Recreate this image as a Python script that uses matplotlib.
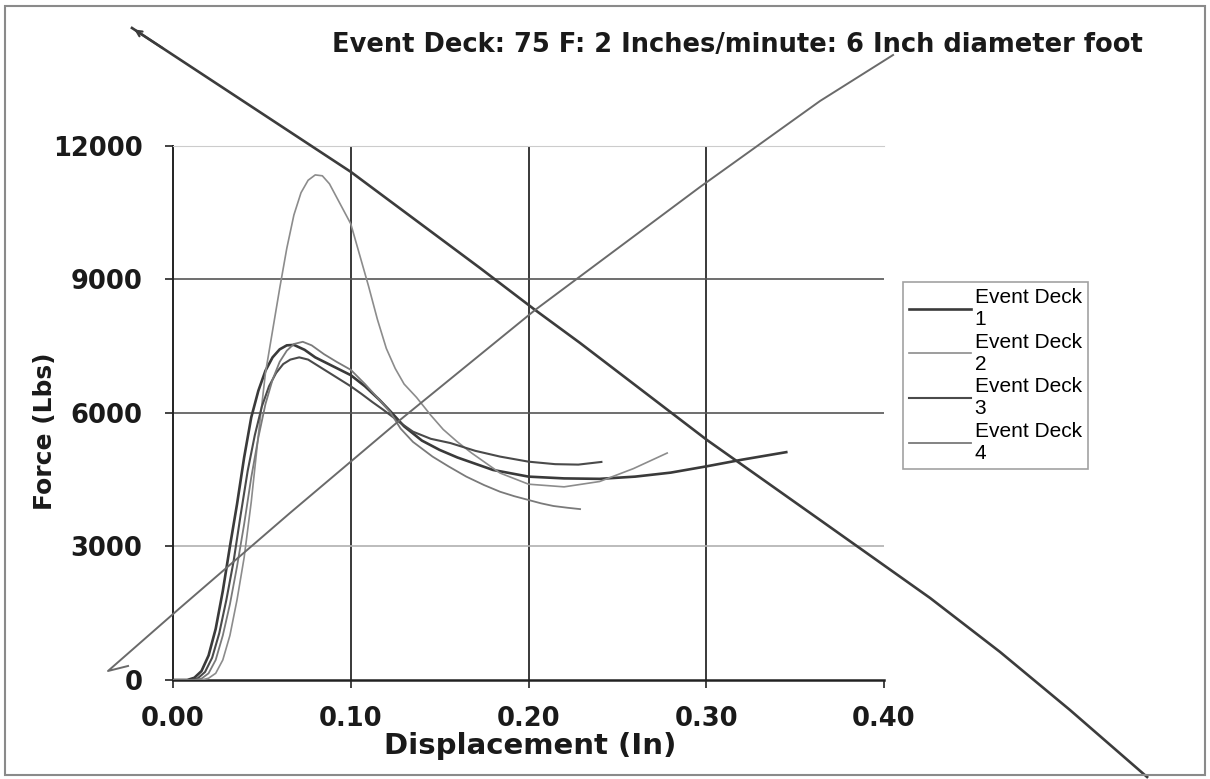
import matplotlib
matplotlib.use("Agg")
import matplotlib.pyplot as plt
from matplotlib.patches import Rectangle

# --- curve data (displacement in, force lbs) ---
deck1_x = [0.000, 0.008, 0.012, 0.016, 0.020, 0.024, 0.028, 0.032, 0.036, 0.040,
           0.044, 0.048, 0.052, 0.056, 0.060, 0.064, 0.068, 0.074, 0.080, 0.090,
           0.100, 0.108, 0.116, 0.122, 0.130, 0.140, 0.150, 0.160, 0.180, 0.200,
           0.220, 0.240, 0.260, 0.280, 0.300, 0.320, 0.345]
deck1_y = [0, 0, 50, 200, 550, 1150, 2000, 3000, 3950, 5000,
           5900, 6500, 6950, 7250, 7430, 7520, 7530, 7420, 7250, 7050,
           6850, 6600, 6300, 6050, 5700, 5380, 5170, 5000, 4720, 4570,
           4530, 4520, 4570, 4660, 4800, 4950, 5120]

deck2_x = [0.000, 0.016, 0.020, 0.024, 0.028, 0.032, 0.036, 0.040, 0.044, 0.048,
           0.052, 0.056, 0.060, 0.064, 0.068, 0.072, 0.076, 0.080, 0.084, 0.088,
           0.092, 0.096, 0.100, 0.105, 0.110, 0.115, 0.120, 0.125, 0.130, 0.137,
           0.145, 0.152, 0.160, 0.168, 0.184, 0.200, 0.220, 0.240, 0.259, 0.278]
deck2_y = [0, 0, 40, 150, 450, 1000, 1800, 2750, 4000, 5500,
           6900, 7850, 8800, 9700, 10450, 10950, 11230, 11350, 11330, 11150,
           10850, 10550, 10250, 9550, 8850, 8100, 7450, 7000, 6650, 6350,
           5950, 5630, 5350, 5100, 4650, 4400, 4340, 4460, 4750, 5100]

deck3_x = [0.000, 0.010, 0.014, 0.018, 0.022, 0.026, 0.030, 0.034, 0.038, 0.042,
           0.046, 0.050, 0.054, 0.058, 0.062, 0.066, 0.071, 0.076, 0.082, 0.090,
           0.096, 0.100, 0.106, 0.112, 0.118, 0.124, 0.128, 0.135, 0.145, 0.156,
           0.170, 0.184, 0.200, 0.215, 0.228, 0.241]
deck3_y = [0, 0, 40, 180, 500, 1050, 1800, 2650, 3700, 4700,
           5500, 6150, 6600, 6900, 7100, 7200, 7250, 7200, 7050, 6850,
           6700, 6600, 6430, 6250, 6080, 5900, 5775, 5580, 5420, 5325,
           5150, 5020, 4906, 4850, 4840, 4900]

deck4_x = [0.000, 0.012, 0.016, 0.020, 0.024, 0.028, 0.032, 0.036, 0.040, 0.044,
           0.048, 0.052, 0.056, 0.060, 0.064, 0.068, 0.073, 0.078, 0.085, 0.092,
           0.100, 0.108, 0.116, 0.122, 0.128, 0.135, 0.146, 0.155, 0.165, 0.175,
           0.184, 0.192, 0.200, 0.207, 0.214, 0.222, 0.229]
deck4_y = [0, 0, 30, 150, 450, 1000, 1700, 2550, 3500, 4550,
           5450, 6200, 6750, 7150, 7400, 7550, 7600, 7520, 7320, 7150,
           6970, 6650, 6300, 6030, 5650, 5350, 5020, 4800, 4570, 4380,
           4230, 4130, 4045, 3970, 3910, 3870, 3840]

labels = ["Event Deck\n1", "Event Deck\n2", "Event Deck\n3", "Event Deck\n4"]

# hand-drawn cross over the chart, in data units
cross_down_x = [-0.0231, 0.1001, 0.1727, 0.2037, 0.2290, 0.3004, 0.3640, 0.4259,
                0.4653, 0.5046, 0.5480]
cross_down_y = [14652, 11416, 9258, 8315, 7573, 5393, 3596, 1843,
                629, -674, -2180]
cross_up_x = [-0.0253, -0.0366, 0.0039, 0.0658, 0.1277, 0.2037, 0.2965, 0.3640, 0.4051]
cross_up_y = [315, 202, 1618, 3753, 5843, 8315, 11079, 13011, 14045]

x_ticks = [0.0, 0.1, 0.2, 0.3, 0.4]
y_ticks = [0, 3000, 6000, 9000, 12000]

fig = plt.figure(figsize=(12.1, 7.79), dpi=100)
ax = fig.add_axes([0.1430, 0.1271, 0.5876, 0.6855])

# grid lines drawn like the old spreadsheet chart
for xv in x_ticks[1:-1]:
    ax.axvline(xv, color="#2a2a2a", lw=1.3, zorder=1)
for yv, c in zip(y_ticks[1:], ["#b0b0b0", "#555555", "#555555", "#c8c8c8"]):
    ax.axhline(yv, color=c, lw=1.2, zorder=1)

ax.plot(deck1_x, deck1_y, color="#3a3a3a", lw=1.9, label=labels[0], zorder=3)
ax.plot(deck2_x, deck2_y, color="#8c8c8c", lw=1.2, label=labels[1], zorder=3)
ax.plot(deck3_x, deck3_y, color="#4a4a4a", lw=1.5, label=labels[2], zorder=3)
ax.plot(deck4_x, deck4_y, color="#7a7a7a", lw=1.3, label=labels[3], zorder=3)

ax.set_xlim(0, 0.40)
ax.set_ylim(0, 12000)
ax.set_xticks(x_ticks)
ax.set_yticks(y_ticks)
ax.set_xticklabels([f"{v:.2f}" for v in x_ticks])
ax.set_yticklabels([str(v) for v in y_ticks])
ax.tick_params(axis="both", direction="out", length=6, width=1.2, color="#222222",
               labelsize=18.5)
ax.tick_params(axis="y", pad=16)
ax.tick_params(axis="x", pad=13)
for lab in ax.get_xticklabels() + ax.get_yticklabels():
    lab.set_fontweight("heavy")
    lab.set_color("#1a1a1a")

ax.spines["left"].set_color("#222222")
ax.spines["left"].set_linewidth(1.4)
ax.spines["bottom"].set_color("#222222")
ax.spines["bottom"].set_linewidth(1.8)
ax.spines["top"].set_color("#cccccc")
ax.spines["right"].set_visible(False)

ax.set_xlabel("Displacement (In)", fontsize=21, fontweight="heavy", color="#1a1a1a")
ax.set_ylabel("Force (Lbs)", fontsize=18, fontweight="heavy", color="#1a1a1a")
ax.xaxis.set_label_coords(0.502, -0.098)
ax.yaxis.set_label_coords(-0.163, 0.465)

fig.text(0.6095, 0.942, "Event Deck: 75 F: 2 Inches/minute: 6 Inch diameter foot",
         ha="center", va="center", fontsize=18.5, fontweight="heavy", color="#1a1a1a")

leg = fig.legend(loc="upper left", bbox_to_anchor=(0.746, 0.638), frameon=True,
                 fancybox=False, borderpad=0.3, labelspacing=0.17,
                 handlelength=3.0, handletextpad=0.15, borderaxespad=0,
                 prop={"family": "Liberation Sans", "size": 15})
leg.get_frame().set_edgecolor("#8a8a8a")
leg.get_frame().set_linewidth(1.2)

# the cross-out strokes
ax.plot(cross_down_x, cross_down_y, color="#3c3c3c", lw=1.9, clip_on=False, zorder=5)
ax.plot(cross_up_x, cross_up_y, color="#6a6a6a", lw=1.4, clip_on=False, zorder=5)
ax.annotate("", xy=(cross_down_x[0], cross_down_y[0]),
            xytext=(cross_down_x[1] * 0.15 + cross_down_x[0] * 0.85,
                    cross_down_y[1] * 0.15 + cross_down_y[0] * 0.85),
            arrowprops=dict(arrowstyle="->", color="#3c3c3c", lw=1.6),
            annotation_clip=False, zorder=5)

fig.patches.append(Rectangle((0.004, 0.005), 0.992, 0.987, transform=fig.transFigure,
                             fill=False, edgecolor="#8a8a8a", lw=1.5))

fig.savefig("out.png", dpi=100)
